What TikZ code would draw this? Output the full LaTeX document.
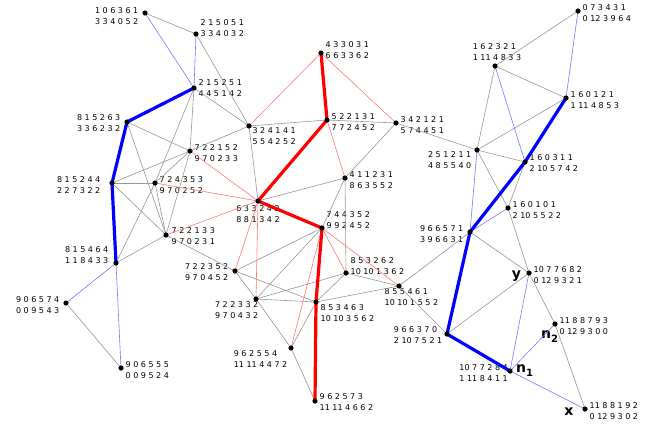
\documentclass[tikz,border=0pt]{standalone}
\usepackage{fontspec}
\setmainfont{DejaVu Sans}
\newfontfamily\labfont{DejaVu Sans}
\newcommand{\tagsub}[1]{\raisebox{-3.5pt}{\fontsize{10}{10}\selectfont #1}}
\definecolor{edgegray}{RGB}{150,150,150}
\definecolor{lightblue}{RGB}{120,120,255}
\definecolor{lightred}{RGB}{255,120,120}
\tikzset{
  lbl/.style={font=\labfont\fontsize{8}{11}\selectfont, align=left, inner sep=0.5pt},
  tag/.style={font=\fontsize{14}{14}\selectfont\bfseries, inner sep=0pt},
  grayedge/.style={draw=edgegray, line width=0.6pt},
  bluelink/.style={draw=lightblue, line width=0.6pt},
  redlink/.style={draw=lightred, line width=0.6pt},
  bluepath/.style={draw=blue, line width=3.2pt, line join=round},
  redpath/.style={draw=red, line width=3.2pt, line join=round}
}

\begin{document}
\begin{tikzpicture}[x=1pt, y=-1pt, label distance=4pt]
  \useasboundingbox (0,0) rectangle (656,426);

  % left group
  \coordinate[label={[lbl,xshift=-2pt,yshift=-3pt]left:{1 0 6 3 6 1\\3 3 4 0 5 2}}] (l1) at (145,13);
  \coordinate[label={[lbl,yshift=5.5pt]right:{2 1 5 0 5 1\\3 3 4 0 3 2}}] (l2) at (196,34);
  \coordinate[label={[lbl]right:{2 1 5 2 5 1\\4 4 5 1 4 2}}] (l3) at (194,88);
  \coordinate[label={[lbl,xshift=-2pt,yshift=-1pt]left:{8 1 5 2 6 3\\3 3 6 2 3 2}}] (l4) at (127,122);
  \coordinate[label={[lbl,yshift=-2pt]right:{7 2 2 1 5 2\\9 7 0 2 3 3}}] (l5) at (190,151);
  \coordinate[label={[lbl,xshift=-7pt,yshift=-2pt]left:{8 1 5 2 4 4\\2 2 7 3 2 2}}] (l6) at (112,183);
  \coordinate[label={[lbl,yshift=-2pt]right:{7 2 4 3 5 3\\9 7 0 2 5 2}}] (l7) at (155,183);
  \coordinate[label={[lbl,xshift=1pt,yshift=-1pt]right:{7 2 2 1 3 3\\9 7 0 2 3 1}}] (l8) at (166,235);
  \coordinate[label={[lbl,xshift=-3pt,yshift=8pt]left:{8 1 5 4 6 4\\1 1 8 4 3 3}}] (l9) at (116,263);
  \coordinate[label={[lbl,xshift=-2pt,yshift=-2pt]left:{9 0 6 5 7 4\\0 0 9 5 4 3}}] (l10) at (66,303);
  \coordinate[label={[lbl,yshift=-2.5pt]right:{9 0 6 5 5 5\\0 0 9 5 2 4}}] (l11) at (121,368);

  % middle group
  \coordinate[label={[lbl,yshift=2pt]below right:{3 2 4 1 4 1\\5 5 4 2 5 2}}] (m1) at (249,126);
  \coordinate[label={[lbl,yshift=2.5pt]right:{4 3 3 0 3 1\\6 6 3 3 6 2}}] (m2) at (321,53);
  \coordinate[label={[lbl,yshift=-2pt]right:{5 2 2 1 3 1\\7 7 2 4 5 2}}] (m3) at (327,120);
  \coordinate[label={[lbl,yshift=-2pt]right:{3 4 2 1 2 1\\5 7 4 4 5 1}}] (m4) at (396,123);
  \coordinate[label={[lbl]below:{6 3 3 2 4 2\\8 8 1 3 4 2}}] (m5) at (258,201);
  \coordinate[label={[lbl,yshift=-2pt]right:{4 1 1 2 3 1\\8 6 3 5 5 2}}] (m6) at (345,178);
  \coordinate[label={[lbl,yshift=7.5pt]right:{7 4 4 3 5 2\\9 9 2 4 5 2}}] (m7) at (322,228);
  \coordinate[label={[lbl,xshift=-2pt,yshift=-1.5pt]left:{7 2 2 3 5 2\\9 7 0 4 5 2}}] (m8) at (235,271);
  \coordinate[label={[lbl,yshift=6.5pt]right:{8 5 3 2 6 2\\10 10 1 3 6 2}}] (m9) at (346,273);
  \coordinate[label={[lbl,anchor=north west,xshift=-15pt,yshift=2pt]below:{8 5 5 4 6 1\\10 10 1 5 5 2}}] (m10) at (399,286);
  \coordinate[label={[lbl,anchor=north east,xshift=3pt,yshift=2pt]below:{7 2 2 3 3 2\\9 7 0 4 3 2}}] (m11) at (256,299);
  \coordinate[label={[lbl,anchor=north west,xshift=4pt,yshift=2pt]below:{8 5 3 4 6 3\\10 10 3 5 6 2}}] (m12) at (316,302);
  \coordinate[label={[lbl,anchor=north east,xshift=-3pt,yshift=2pt]below:{9 6 2 5 5 4\\11 11 4 4 7 2}}] (m13) at (291,348);
  \coordinate[label={[lbl,yshift=-1.5pt]right:{9 6 2 5 7 3\\11 11 4 6 6 2}}] (m14) at (315,401);

  % right group
  \coordinate[label={[lbl,yshift=-2pt]right:{0 7 3 4 3 1\\0 12 3 9 6 4}}] (r1) at (578,11);
  \coordinate[label={[lbl,xshift=2pt,yshift=1pt]above:{1 6 2 3 2 1\\1 11 4 8 3 3}}] (r2) at (495,66);
  \coordinate[label={[lbl,yshift=-2pt]right:{1 6 0 1 2 1\\1 11 4 8 5 3}}] (r3) at (566,98);
  \coordinate[label={[lbl,anchor=north east,xshift=-5pt,yshift=3pt]below:{2 5 1 2 1 1\\4 8 5 5 4 0}}] (r4) at (477,150);
  \coordinate[label={[lbl,yshift=-1.5pt]right:{1 6 0 3 1 1\\2 10 5 7 4 2}}] (r5) at (525,162);
  \coordinate[label={[lbl,yshift=-2pt]right:{1 6 0 1 0 1\\2 10 5 5 2 2}}] (r6) at (508,208);
  \coordinate[label={[lbl,xshift=-2pt,yshift=-2.5pt]left:{9 6 6 5 7 1\\3 9 6 6 3 1}}] (r7) at (470,232);
  \coordinate[label={[lbl,yshift=-2pt]right:{10 7 7 6 8 2\\0 12 9 3 2 1}}] (r8) at (529,273);
  \coordinate[label={[lbl,yshift=-2pt]right:{11 8 8 7 9 3\\0 12 9 3 0 0}}] (r9) at (555,324);
  \coordinate[label={[lbl,yshift=-1.5pt]left:{9 6 6 3 7 0\\2 10 7 5 2 1}}] (r10) at (447,334);
  \coordinate[label={[lbl,xshift=2.5pt,yshift=-2.5pt]left:{10 7 7 2 8 4\\1 11 8 4 1 1}}] (r11) at (510,371);
  \coordinate[label={[lbl,yshift=-2pt]right:{11 8 8 1 9 2\\0 12 9 3 0 2}}] (r12) at (585,409);

  \node[tag] (ty) at (516.5,276.5) {y};
  \node[tag] (tn1) at (524.5,370.5) {n\tagsub{1}};
  \node[tag] (tn2) at (549.5,336.5) {n\tagsub{2}};
  \node[tag] (tx) at (569,412) {x};

  % gray links
  \foreach \a/\b in {l1/l2, l2/m1, l3/m1, l3/l5, l3/l7, l4/l5, l4/l8, l6/l7, l6/l5, l6/l8,
      l7/l5, l7/l8, l7/l9, l5/l8, l5/m1, l8/l9, l8/m8, l10/l11,
      m1/m5, m1/m3, m3/m4, m4/m6, m4/r4, m5/m6, m6/m7, m6/m9, m7/m8, m7/m11,
      m8/m12, m8/m11, m11/m12, m11/m9, m11/m13, m12/m9, m12/m10, m12/m13, m13/m14,
      m9/m10, m10/r7, m10/r10,
      r1/r2, r2/r3, r2/r4, r3/r4, r4/r5, r4/r6, r5/r6, r6/r8, r7/r8, r10/r8, r8/r9, r9/r12}
    \draw[grayedge] (\a) -- (\b);
  % thin coloured links
  \foreach \a/\b in {l1/l3, l2/l3, l9/l10, l9/l11, r1/r3, r2/r5, r4/r7, r6/r7, r8/r11, r11/r9, r11/r12}
    \draw[bluelink] (\a) -- (\b);
  \foreach \a/\b in {m1/m2, m2/m4, m3/m6, l5/m5, l7/m5, l8/m5, m8/m5, m11/m5, m7/m9, m7/m10, m13/m7}
    \draw[redlink] (\a) -- (\b);

  % paths
  \draw[bluepath] (l3) -- (l4) -- (l6) -- (l9);
  \draw[bluepath] (r3) -- (r5) -- (r7) -- (r10) -- (r11);
  \draw[redpath]  (m2) -- (m3) -- (m5) -- (m7) -- (m12) -- (m14);

  \foreach \n in {l1,l2,l3,l4,l5,l6,l7,l8,l9,l10,l11,
      m1,m2,m3,m4,m5,m6,m7,m8,m9,m10,m11,m12,m13,m14,
      r1,r2,r3,r4,r5,r6,r7,r8,r9,r10,r11,r12}
    \fill (\n) circle [radius=2.6];

\end{tikzpicture}
\end{document}
